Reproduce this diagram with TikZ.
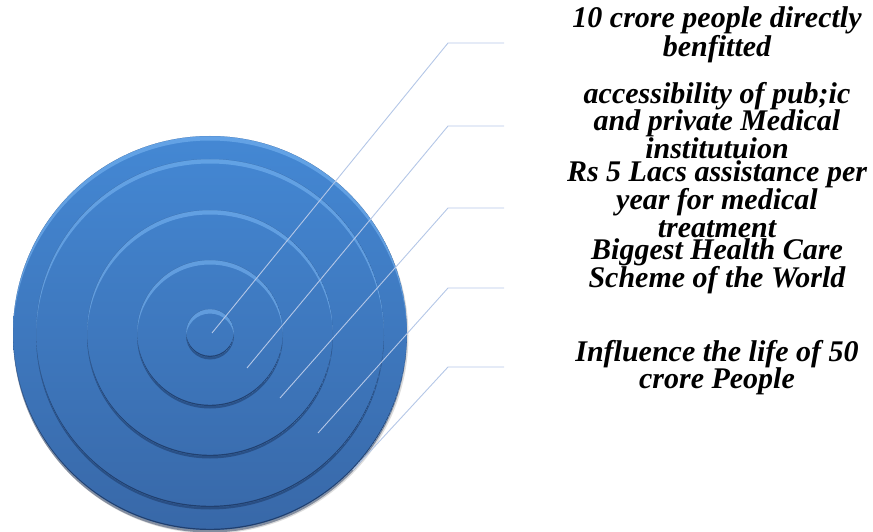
\documentclass[tikz,border=0pt]{standalone}
\usepackage{fontspec}
\setmainfont{Liberation Serif}
\definecolor{ringtop}{RGB}{68,136,212}
\definecolor{ringbot}{RGB}{56,104,168}
\definecolor{ringedge}{RGB}{22,45,85}
\definecolor{ringlight}{RGB}{125,185,245}
\definecolor{conn}{RGB}{180,199,231}
\begin{document}
\begin{tikzpicture}[x=1pt,y=1pt,
	ringtext/.style={align=center,inner sep=0pt,font=\fontsize{30}{27.5}\selectfont\bfseries\itshape},
	leader/.style={draw=conn,line width=0.9pt}]
\useasboundingbox (0,0) rectangle (873,531);
\coordinate (c) at (210,198);
\fill[black!30,opacity=0.45] (211,195) circle (197.5);
\foreach \r in {197,174,123,73,24}{
	\pgfmathsetmacro{\pa}{(198-\r)/3.94}
	\pgfmathsetmacro{\pb}{(198+\r)/3.94}
	\fill[ringedge,opacity=0.45] ([yshift=-2.5pt]c) circle (\r);
	\shade[top color=ringbot!\pa!ringtop,bottom color=ringbot!\pb!ringtop] (c) circle (\r);
	\begin{scope}
		\clip (c) circle (\r);
		\fill[ringlight,opacity=0.55,even odd rule] (c) circle (\r) ([yshift=-4.5pt]c) circle (\r);
		\fill[ringedge,opacity=0.7,even odd rule] (c) circle (\r) ([yshift=1.2pt]c) circle (\r);
	\end{scope}
}
\coordinate (p1) at (212,198);
\coordinate (p2) at (247,163);
\coordinate (p3) at (280,133);
\coordinate (p4) at (318,98);
\coordinate (p5) at (353,61);
\foreach \i/\y in {1/488,2/405,3/323,4/243,5/164}{
	\coordinate (k\i) at (448,\y);
	\coordinate (e\i) at (504,\y);
	\draw[leader] (e\i) -- (k\i) -- (p\i);
}
\node[ringtext] (t1) at (717,496.5) {10 crore people directly\\benfitted};
\node[ringtext] (t2) at (717,410.5) {accessibility of pub;ic\\and private Medical\\institutuion};
\node[ringtext] (t3) at (717,332) {Rs 5 Lacs assistance per\\year for medical\\treatment};
\node[ringtext] (t4) at (717,264.5) {Biggest Health Care\\Scheme of the World};
\node[ringtext] (t5) at (717,163.5) {Influence the life of 50\\crore People};
\end{tikzpicture}
\end{document}
